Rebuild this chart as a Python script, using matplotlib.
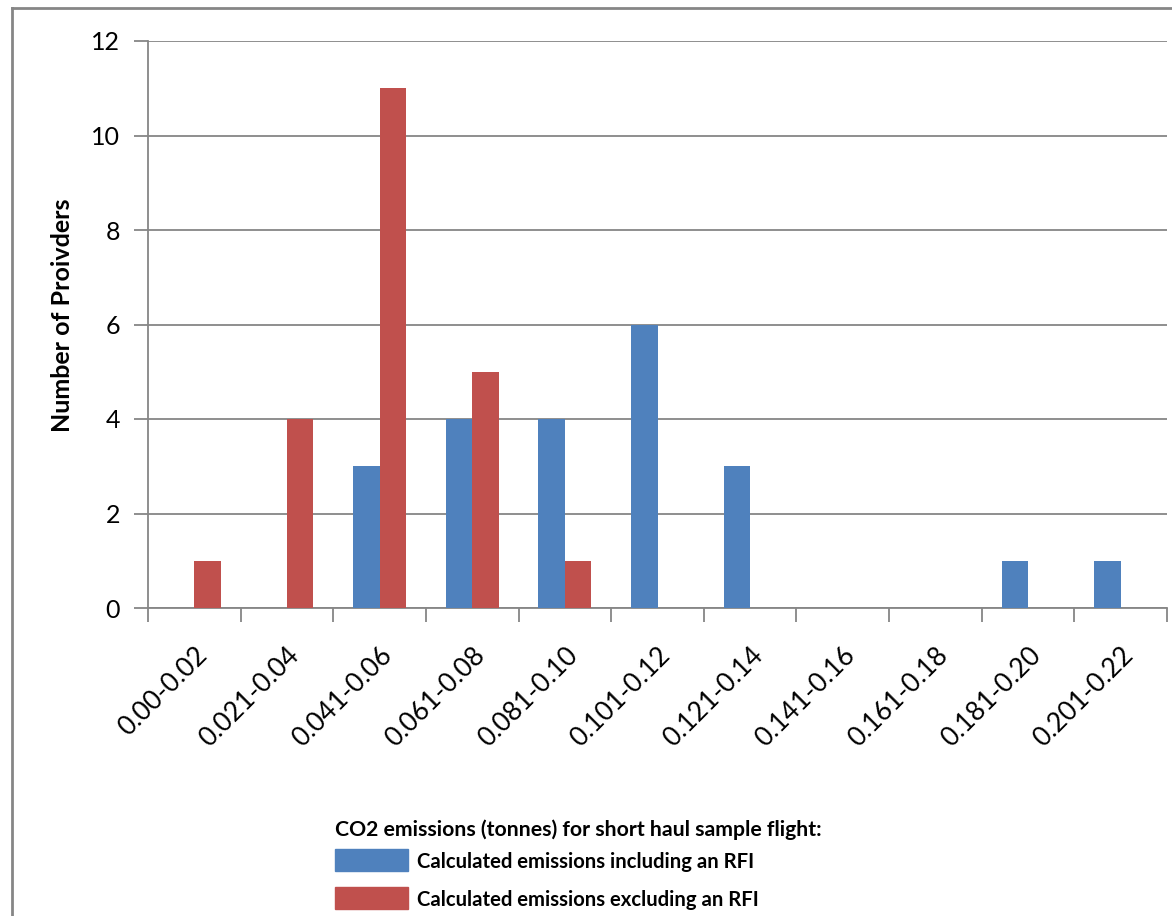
import matplotlib
matplotlib.use("Agg")
import matplotlib.pyplot as plt
import numpy as np
from matplotlib.patches import Rectangle

categories = ["0.00-0.02", "0.021-0.04", "0.041-0.06", "0.061-0.08", "0.081-0.10",
              "0.101-0.12", "0.121-0.14", "0.141-0.16", "0.161-0.18", "0.181-0.20", "0.201-0.22"]
incl_rfi = [0, 0, 3, 4, 4, 6, 3, 0, 0, 1, 1]
excl_rfi = [1, 4, 11, 5, 1, 0, 0, 0, 0, 0, 0]
series_names = ["Calculated emissions including an RFI", "Calculated emissions excluding an RFI"]
legend_title = "CO2 emissions (tonnes) for short haul sample flight:"
y_label = "Number of Proivders"

blue = "#4f81bd"
red = "#c0504d"
grid_c = "#868686"
FONT = "Lato"

W, H = 1172, 916
fig = plt.figure(figsize=(W / 100, H / 100), dpi=100)
ax = fig.add_axes([148 / W, 1 - 608 / H, (1167 - 148) / W, (608 - 41) / H])

x = np.arange(len(categories))
bw = 1 / 3.5
ax.bar(x - bw / 2, incl_rfi, width=bw, color=blue, label=series_names[0], zorder=3)
ax.bar(x + bw / 2, excl_rfi, width=bw, color=red, label=series_names[1], zorder=3)

ax.set_xlim(-0.5, len(categories) - 0.5)
ax.set_ylim(0, 12)
ax.set_yticks(range(0, 13, 2))
ax.yaxis.grid(True, color=grid_c, linewidth=1.3, zorder=0)
ax.set_axisbelow(True)

ax.set_xticks(np.arange(len(categories) + 1) - 0.5, minor=False)
ax.set_xticklabels([])
ax.set_xticks(x, minor=True)
ax.set_xticklabels(categories, minor=True, rotation=45, ha="right", va="top",
                   rotation_mode="anchor", fontsize=19, fontfamily=FONT)
ax.tick_params(axis="x", which="major", length=10, width=1.3, color=grid_c)
ax.tick_params(axis="x", which="minor", length=0, pad=25)
ax.tick_params(axis="y", length=10, width=1.3, color=grid_c, labelsize=18, pad=10)
for lab in ax.get_yticklabels():
    lab.set_fontfamily(FONT)

for s in ["top", "right"]:
    ax.spines[s].set_visible(False)
for s in ["left", "bottom"]:
    ax.spines[s].set_color(grid_c)
    ax.spines[s].set_linewidth(1.3)

fig.text(62 / W, 1 - 315 / H, y_label, rotation=90, ha="center", va="center",
         fontsize=18, fontweight="bold", fontfamily=FONT)

fig.text(335 / W, 1 - 830 / H, legend_title, ha="left", va="center",
         fontsize=15.3, fontweight="bold", fontfamily=FONT)
for i, (c, name) in enumerate(zip([blue, red], series_names)):
    yc = 860 + 38 * i
    fig.patches.append(Rectangle((335 / W, 1 - (yc + 11) / H), 73 / W, 22 / H,
                                 transform=fig.transFigure, color=c))
    fig.text(417 / W, 1 - (yc + 2) / H, name, ha="left", va="center",
             fontsize=14.6, fontweight="bold", fontfamily=FONT)

# outer chart border
fig.add_artist(plt.Line2D([12 / W, 12 / W], [0, 1 - 8 / H], transform=fig.transFigure,
                          color=grid_c, linewidth=2))
fig.add_artist(plt.Line2D([12 / W, 1], [1 - 8 / H, 1 - 8 / H], transform=fig.transFigure,
                          color=grid_c, linewidth=2))

fig.savefig("out.png", dpi=100)
